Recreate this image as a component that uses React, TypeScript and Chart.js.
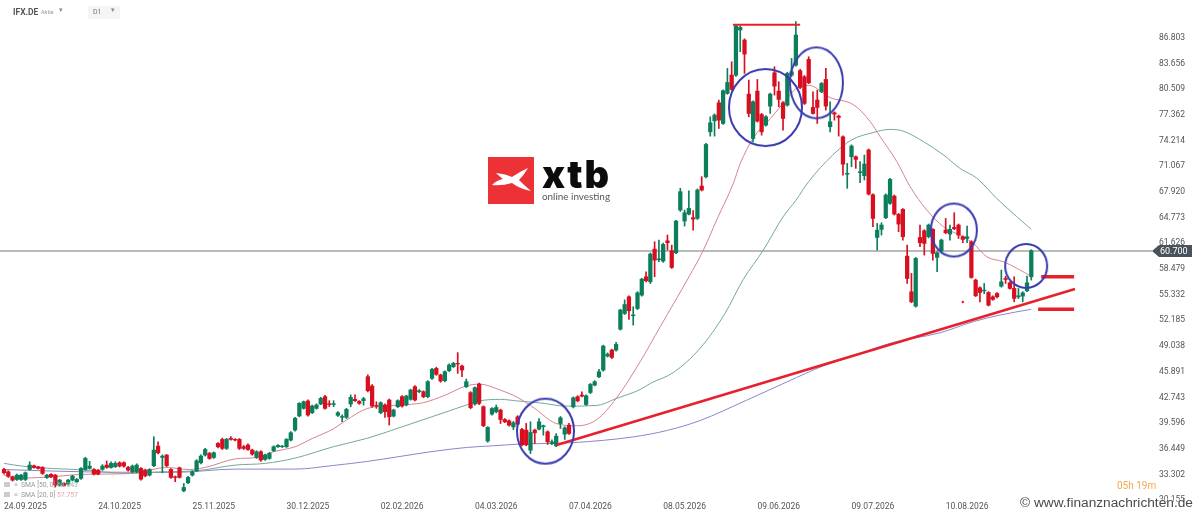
import { useEffect, useRef } from "react"
import { Chart, registerables } from "chart.js"

Chart.register(...registerables)

const opens = [
  33.91, 33.62, 33.01, 32.68, 32.68, 32.68, 33.91, 34.36, 34.24, 34.15,
  32.93, 33.30, 33.21, 31.99, 32.19, 32.11, 32.60, 32.40, 32.81, 33.91,
  34.03, 33.91, 33.83, 33.91, 34.44, 34.15, 34.24, 34.73, 34.73, 34.15,
  33.62, 33.62, 34.03, 33.83, 33.21, 34.36, 36.77, 35.38, 35.67, 33.91,
  33.01, 34.11, 31.29, 32.27, 33.21, 33.74, 34.73, 35.67, 35.87, 35.38,
  37.10, 37.59, 36.49, 37.72, 37.59, 37.59, 36.69, 36.90, 36.28, 35.38,
  36.08, 35.14, 35.26, 36.20, 36.69, 36.69, 36.69, 37.51, 38.74, 40.47,
  41.40, 42.30, 40.86, 41.40, 41.93, 42.83, 41.97, 41.87, 40.54, 40.30,
  40.29, 41.93, 42.50, 42.25, 42.34, 45.28, 44.14, 41.76, 40.86, 41.81,
  42.42, 40.45, 41.60, 42.83, 41.81, 42.50, 44.05, 43.44, 43.44, 42.83,
  45.08, 46.30, 45.49, 44.79, 46.02, 46.51, 46.92, 46.59, 44.05, 43.32,
  41.93, 44.38, 41.60, 37.39, 40.69, 40.97, 41.18, 40.03, 39.87, 39.13,
  40.36, 38.81, 38.73, 36.27, 38.73, 38.85, 39.15, 38.52, 37.09, 36.80,
  39.54, 38.23, 39.34, 41.59, 42.82, 43.02, 41.87, 43.35, 44.25, 45.27,
  46.09, 47.80, 48.54, 48.54, 51.10, 53.03, 55.07, 52.75, 53.64, 55.28,
  57.53, 56.91, 60.92, 59.62, 59.45, 61.94, 60.72, 60.47, 65.71, 64.36,
  65.22, 64.77, 64.69, 68.65, 69.78, 75.30, 76.65, 78.86, 76.32, 80.01,
  82.25, 82.25, 87.78, 86.55, 79.92, 74.48, 80.29, 77.43, 76.12, 78.45,
  82.54, 80.29, 78.86, 78.57, 82.25, 83.48, 82.79, 82.05, 84.18, 78.29,
  79.19, 80.21, 81.72, 75.92, 77.63, 77.22, 74.69, 70.10, 72.25, 72.25,
  70.30, 69.92, 73.07, 67.59, 62.35, 63.34, 64.77, 66.53, 67.42, 65.18,
  65.79, 60.06, 55.69, 53.93, 62.35, 63.17, 62.44, 63.34, 59.90, 60.72,
  63.25, 62.76, 63.58, 63.87, 62.44, 62.23, 61.82, 57.12, 56.18, 55.80,
  55.60, 55.07, 55.48, 56.38, 57.32, 56.79, 56.10, 55.07, 55.16, 55.81,
  57.53,
]

const closes = [
  33.50, 33.09, 32.60, 33.21, 33.21, 33.50, 34.44, 34.15, 34.03, 33.42,
  33.21, 33.01, 31.99, 32.60, 31.95, 32.60, 33.09, 32.68, 34.03, 35.26,
  34.32, 33.34, 33.34, 34.32, 34.15, 34.65, 34.65, 34.32, 34.32, 33.83,
  34.32, 34.44, 32.72, 33.13, 33.91, 36.28, 35.95, 35.54, 34.36, 32.93,
  32.93, 32.93, 31.70, 32.93, 33.62, 34.97, 35.55, 36.36, 35.26, 35.96,
  36.69, 36.49, 37.63, 37.60, 37.51, 36.49, 36.49, 36.36, 35.79, 36.08,
  35.06, 35.67, 35.87, 36.69, 36.86, 36.77, 37.59, 38.41, 40.17, 42.01,
  42.21, 40.58, 41.68, 41.81, 42.62, 41.40, 41.87, 41.97, 40.86, 40.40,
  41.27, 42.75, 42.34, 42.01, 42.58, 43.56, 41.68, 41.68, 42.09, 40.99,
  40.37, 41.19, 42.34, 41.68, 42.91, 43.65, 42.42, 43.56, 42.83, 44.67,
  46.18, 45.57, 44.75, 45.89, 46.71, 46.92, 46.84, 46.10, 44.67, 41.48,
  43.93, 42.01, 39.27, 39.06, 41.38, 41.51, 40.03, 39.75, 39.34, 39.63,
  39.46, 36.93, 36.93, 38.44, 38.40, 39.75, 39.26, 37.29, 37.29, 37.99,
  40.24, 39.01, 38.32, 42.69, 42.32, 42.90, 42.94, 44.33, 44.66, 45.88,
  49.03, 48.05, 47.64, 49.24, 53.45, 54.13, 53.36, 52.85, 55.56, 57.24,
  57.04, 60.31, 59.57, 59.72, 61.50, 61.70, 58.67, 64.36, 67.96, 65.38,
  65.91, 64.60, 68.16, 68.16, 73.75, 76.41, 77.35, 76.73, 80.33, 81.35,
  80.50, 88.27, 88.10, 84.83, 77.55, 78.98, 76.61, 75.30, 77.14, 79.92,
  80.90, 79.27, 76.94, 82.46, 82.66, 87.16, 80.74, 78.78, 81.31, 77.55,
  78.29, 81.23, 78.45, 76.53, 77.47, 77.06, 71.33, 70.21, 73.56, 71.92,
  70.41, 71.35, 67.67, 64.68, 63.25, 63.87, 67.55, 69.47, 65.22, 63.99,
  62.44, 57.32, 54.46, 59.78, 61.70, 61.62, 63.87, 60.39, 60.47, 62.03,
  62.93, 63.34, 63.42, 62.64, 62.11, 62.44, 57.45, 55.20, 55.60, 55.89,
  54.05, 54.75, 55.07, 56.91, 57.20, 56.10, 54.87, 55.20, 55.56, 56.79,
  60.72,
]

const highs = [
  34.03, 33.75, 33.09, 33.34, 33.30, 33.60, 34.85, 34.45, 34.30, 34.25,
  33.30, 33.40, 33.30, 32.70, 32.30, 32.70, 33.20, 32.80, 34.15, 35.40,
  34.90, 34.00, 33.90, 34.50, 34.95, 34.85, 34.85, 34.85, 34.85, 34.30,
  34.45, 34.60, 34.15, 33.95, 34.00, 37.92, 37.30, 35.70, 35.75, 34.00,
  33.10, 34.20, 32.19, 33.05, 33.75, 35.10, 35.70, 36.50, 36.00, 36.05,
  37.20, 37.75, 37.70, 37.95, 37.70, 37.70, 36.85, 37.05, 36.40, 36.20,
  36.20, 35.80, 36.00, 36.80, 36.95, 36.85, 37.70, 38.55, 40.30, 42.10,
  42.30, 42.45, 41.80, 41.95, 42.75, 43.00, 42.34, 42.34, 41.00, 40.60,
  41.40, 43.05, 43.05, 42.35, 42.75, 45.50, 44.30, 42.20, 42.20, 41.95,
  42.55, 41.30, 42.45, 42.95, 43.00, 43.75, 44.20, 43.70, 43.55, 44.80,
  46.30, 46.45, 45.60, 46.00, 46.85, 47.05, 48.23, 46.70, 45.00, 43.45,
  44.05, 44.50, 41.70, 39.15, 41.50, 41.80, 41.30, 40.15, 40.00, 39.80,
  40.50, 38.95, 39.55, 39.75, 38.85, 40.15, 39.35, 38.65, 37.55, 38.30,
  40.40, 39.15, 39.55, 42.80, 42.95, 43.42, 43.05, 44.45, 44.80, 46.17,
  49.15, 48.20, 48.65, 49.50, 53.55, 54.70, 55.20, 53.85, 55.70, 57.35,
  58.14, 60.45, 61.82, 62.03, 61.65, 62.64, 61.41, 64.45, 68.37, 65.71,
  68.08, 65.63, 68.30, 69.80, 73.90, 77.14, 77.50, 79.19, 80.45, 83.07,
  83.89, 88.40, 88.30, 86.70, 81.64, 79.10, 81.72, 77.55, 77.30, 80.05,
  83.28, 81.44, 79.00, 82.60, 84.30, 88.80, 82.95, 82.20, 84.50, 80.21,
  80.41, 81.35, 83.07, 78.98, 77.75, 77.35, 74.80, 71.43, 73.70, 72.35,
  71.64, 72.46, 73.20, 67.70, 64.07, 64.15, 67.70, 69.60, 67.55, 65.30,
  65.90, 61.41, 57.94, 59.90, 63.87, 63.30, 64.00, 63.45, 60.60, 62.15,
  64.68, 63.87, 65.38, 64.00, 62.55, 63.74, 61.95, 57.25, 56.30, 56.71,
  55.70, 55.20, 55.60, 58.35, 57.60, 56.90, 57.53, 56.10, 55.70, 57.61,
  60.85,
]

const lows = [
  33.34, 32.93, 32.48, 32.55, 32.55, 32.55, 33.83, 34.05, 33.95, 33.30,
  32.80, 32.90, 31.75, 31.85, 31.85, 32.00, 32.50, 32.30, 32.70, 33.80,
  33.95, 33.25, 33.25, 33.80, 34.05, 34.05, 34.15, 34.20, 34.20, 33.70,
  33.50, 33.50, 32.60, 33.00, 33.10, 34.25, 35.80, 33.50, 34.25, 32.80,
  32.40, 32.85, 31.17, 32.15, 33.10, 33.65, 34.60, 35.55, 35.15, 35.25,
  36.55, 36.35, 36.35, 37.51, 37.40, 36.35, 36.35, 36.25, 35.65, 35.25,
  34.90, 35.00, 35.15, 36.10, 36.60, 36.60, 36.60, 37.40, 38.60, 40.35,
  41.30, 40.45, 40.75, 41.30, 41.85, 41.30, 41.60, 41.60, 40.40, 39.76,
  40.15, 41.60, 42.25, 41.90, 41.80, 43.40, 41.55, 41.40, 40.75, 40.30,
  39.35, 40.35, 41.50, 41.55, 41.70, 42.40, 42.30, 43.30, 42.70, 42.70,
  44.95, 45.45, 44.60, 44.65, 45.90, 46.40, 45.69, 45.28, 43.95, 41.35,
  41.80, 41.85, 39.15, 37.25, 40.55, 40.85, 39.54, 39.65, 39.20, 38.80,
  39.35, 36.80, 36.80, 35.86, 37.09, 38.75, 38.11, 36.97, 36.95, 36.70,
  38.93, 37.58, 38.20, 41.45, 42.20, 42.80, 41.75, 43.20, 44.15, 45.15,
  45.95, 47.70, 47.50, 48.40, 51.00, 52.90, 52.30, 51.60, 53.50, 55.15,
  56.90, 56.70, 57.53, 59.37, 59.30, 60.80, 58.55, 60.35, 65.55, 63.75,
  65.10, 63.25, 64.55, 68.05, 69.65, 74.77, 74.77, 75.71, 76.20, 79.90,
  80.40, 82.10, 85.12, 82.46, 77.14, 74.07, 76.50, 74.89, 76.00, 77.55,
  79.80, 78.37, 75.51, 78.45, 82.10, 83.35, 80.60, 78.65, 81.20, 77.45,
  76.32, 80.10, 77.96, 75.30, 76.73, 74.77, 69.99, 68.37, 71.02, 70.82,
  69.06, 69.39, 67.55, 63.66, 60.80, 62.64, 64.65, 66.40, 65.10, 63.05,
  62.03, 56.71, 54.35, 53.80, 61.21, 60.19, 62.30, 59.57, 58.14, 60.60,
  62.80, 62.03, 63.30, 62.23, 61.70, 61.70, 57.35, 55.10, 54.46, 55.45,
  53.95, 54.65, 54.95, 56.25, 56.71, 56.00, 54.46, 54.85, 54.46, 55.70,
  57.12,
]

// moving averages at the bars where they bend
const sma20Bars = [0, 3, 10, 18, 30, 38, 43, 47, 54, 59, 63, 68, 72, 77, 80, 85, 94, 98, 103, 107.7, 111, 116, 120, 124, 129, 134, 138.5, 143, 148.6, 153.3, 160, 163.4, 166.5, 170.4, 172, 175, 179, 183, 185, 188, 193, 198.5, 202.3, 204.7, 208.6, 211.7, 215.6, 219.5, 224, 226.5, 229.6, 233.5, 240]
const sma20Values = [33.2, 32.85, 32.95, 33.3, 33.42, 34.15, 33.9, 34.15, 35.2, 35.38, 36.08, 36.69, 37.7, 38.9, 39.96, 41.4, 41.85, 42.1, 43.0, 44.1, 44.37, 43.63, 42.73, 41.38, 39.54, 39.26, 40.03, 42.6, 47.1, 51.4, 57.5, 60.8, 64.5, 69, 71.4, 74.5, 76.9, 79.4, 80.6, 81.0, 79.5, 78.6, 76.6, 74.7, 71.64, 68.57, 65.7, 63.66, 62.44, 61.6, 59.98, 59.37, 57.6]

const sma50Bars = [0, 4.5, 11, 17, 29, 36, 45, 54, 61, 68, 77, 85, 92.5, 100, 108, 111, 116, 120, 125, 131.5, 138.5, 143, 148.6, 151, 156.4, 162.6, 168.4, 172.7, 177.4, 182, 185, 188, 193.5, 198, 203, 207, 210, 214.8, 219.5, 223.4, 227.3, 232, 236.6, 240]
const sma50Values = [34.65, 34.3, 34.03, 33.9, 33.42, 33.6, 33.75, 34.44, 34.65, 35.3, 36.7, 37.75, 39.05, 40.37, 41.8, 42.3, 42.5, 42.3, 42.08, 41.67, 41.75, 42.6, 43.7, 44.45, 45.8, 48.75, 53, 57.2, 60.8, 64.87, 66.9, 69.2, 72.4, 74.3, 75.2, 75.6, 75.4, 74.1, 72.46, 70.8, 69.6, 67.1, 64.9, 63.34]

const sma100Bars = [0, 20, 40, 54, 68, 77, 85, 92.5, 100, 108, 114, 120, 133, 147, 155, 162.6, 173.5, 183, 191.4, 199, 207, 218.7, 226.5, 232.7, 240]
const sma100Values = [33.9, 33.6, 33.55, 33.95, 33.95, 34.4, 34.9, 35.5, 36.1, 36.6, 36.8, 37.0, 37.2, 37.9, 38.7, 39.9, 42.4, 44.66, 46.6, 47.9, 49.37, 50.67, 52.03, 52.84, 53.54]

// hand drawn analysis on top of the price
const trendBars = [129.1, 250.2]
const trendValues = [36.9, 56.03]
const topBars = [170.3, 186]
const topValues = [88.43, 88.43]
const upperBars = [242.3, 250]
const upperValues = [57.54, 57.54]
const lowerBars = [241.6, 250]
const lowerValues = [53.54, 53.54]
const dotBars = [224]
const dotValues = [54.44]

const circleBars = [126.5, 177.9, 189.8, 221.9, 238.8]
const circleValues = [38.6, 78.28, 81.3, 63.26, 58.85]
const circleWidths = [57, 73, 53, 46, 42]
const circleHeights = [65, 77, 71, 53, 44]

const lastPrice = 60.7
const priceTicks = [86.803, 83.656, 80.509, 77.362, 74.214, 71.067, 67.92, 64.773, 61.626, 58.479, 55.332, 52.185, 49.038, 45.891, 42.743, 39.596, 36.449, 33.302, 30.155]
const dateLabels = ["24.09.2025", "24.10.2025", "25.11.2025", "30.12.2025", "02.02.2026", "04.03.2026", "07.04.2026", "08.05.2026", "09.06.2026", "09.07.2026", "10.08.2026"]
const dateBars = [5, 27, 49, 71, 93, 115, 137, 159, 181, 203, 225]

const GREEN = "#0b7f5c"
const RED = "#d80f20"
const X_MIN = -0.935
const X_MAX = 268.2

const points = (xs: number[], ys: number[]) => xs.map((x, i) => ({ x, y: ys[i] }))

function ellipseMark(w: number, h: number) {
  const c = document.createElement("canvas")
  c.width = w + 4
  c.height = h + 4
  const ctx = c.getContext("2d")
  if (ctx) {
    ctx.strokeStyle = "#3a3cae"
    ctx.lineWidth = 2
    ctx.beginPath()
    ctx.ellipse(c.width / 2, c.height / 2, w / 2, h / 2, 0, 0, Math.PI * 2)
    ctx.stroke()
  }
  return c
}

const smaLine = (xs: number[], ys: number[], color: string) => ({
  type: "line" as const,
  data: points(xs, ys),
  borderColor: color,
  borderWidth: 1,
  pointRadius: 0,
  cubicInterpolationMode: "monotone" as const,
  order: 5,
})

const redLine = (xs: number[], ys: number[], width: number) => ({
  type: "line" as const,
  data: points(xs, ys),
  borderColor: "#e81f2d",
  borderWidth: width,
  pointRadius: 0,
  order: 2,
})

const smallText = { position: "absolute", whiteSpace: "nowrap", fontFamily: "Roboto" } as const

function LegendRow({ top, label, value, color }: { top: number; label: string; value: string; color: string }) {
  return (
    <>
      <div style={{ position: "absolute", left: 4, top: top + 1, width: 6, height: 5, background: "#ccc" }} />
      <div style={{ ...smallText, left: 14, top: top - 1, fontSize: 7.5, color: "#aaa" }}>×</div>
      <div style={{ ...smallText, left: 21, top, fontSize: 6.8, color: "#999" }}>{label}</div>
      <div style={{ ...smallText, left: 57, top, fontSize: 6.8, color }}>{value}</div>
    </>
  )
}

export default function App() {
  const chartRef = useRef<HTMLCanvasElement>(null)

  useEffect(() => {
    if (!chartRef.current) return
    const ctx = chartRef.current.getContext("2d")
    if (!ctx) return

    const colors = opens.map((o, i) => (closes[i] >= o ? GREEN : RED))

    const chart = new Chart(ctx, {
      type: "bar",
      data: {
        datasets: [
          {
            type: "line",
            data: points(circleBars, circleValues),
            showLine: false,
            pointStyle: circleWidths.map((w, i) => ellipseMark(w, circleHeights[i])),
            order: 1,
          },
          redLine(trendBars, trendValues, 2.5),
          redLine(topBars, topValues, 2),
          redLine(upperBars, upperValues, 3.5),
          redLine(lowerBars, lowerValues, 3.5),
          {
            type: "line",
            data: points(dotBars, dotValues),
            showLine: false,
            pointRadius: 1.3,
            pointBackgroundColor: "#e81f2d",
            pointBorderWidth: 0,
            order: 2,
          },
          {
            type: "bar",
            data: opens.map((o, i) => ({ x: i, y: [o, closes[i]] })),
            backgroundColor: colors,
            barThickness: 3.6,
            grouped: false,
            order: 3,
          },
          {
            type: "bar",
            data: opens.map((_, i) => ({ x: i, y: [lows[i], highs[i]] })),
            backgroundColor: colors,
            barThickness: 1,
            grouped: false,
            order: 4,
          },
          smaLine(sma20Bars, sma20Values, "#d4848c"),
          smaLine(sma50Bars, sma50Values, "#74a898"),
          smaLine(sma100Bars, sma100Values, "#8b86c6"),
          {
            type: "line",
            data: points([X_MIN, X_MAX], [lastPrice, lastPrice]),
            borderColor: "#a3a3a3",
            borderWidth: 1.5,
            pointRadius: 0,
            order: 6,
          },
        ],
      } as any,
      options: {
        responsive: false,
        animation: false,
        events: [],
        layout: { padding: 0, autoPadding: false },
        plugins: { legend: { display: false }, tooltip: { enabled: false } },
        scales: {
          x: {
            type: "linear",
            min: X_MIN,
            max: X_MAX,
            offset: false,
            grid: { display: false, drawTicks: false, offset: false },
            border: { display: false },
            afterBuildTicks: (scale: any) => {
              scale.ticks = dateBars.map((value) => ({ value }))
            },
            afterFit: (scale: any) => {
              scale.height = 16
              scale.paddingLeft = 0
              scale.paddingRight = 0
            },
            ticks: {
              autoSkip: false,
              maxRotation: 0,
              padding: 1,
              color: "#555",
              font: { family: "Roboto", size: 8.5 },
              callback: (_value: any, index: number) => dateLabels[index],
            },
          },
          y: {
            position: "right",
            min: 30.04,
            max: 91.46,
            offset: false,
            grid: { display: false, drawTicks: false },
            border: { display: false },
            afterBuildTicks: (scale: any) => {
              scale.ticks = priceTicks.map((value) => ({ value }))
            },
            afterFit: (scale: any) => {
              scale.width = 48
              scale.paddingTop = 0
              scale.paddingBottom = 0
            },
            ticks: {
              autoSkip: false,
              padding: 7,
              color: "#555",
              font: { family: "Roboto", size: 8.5 },
              callback: (value: any) => Number(value).toFixed(3),
            },
          },
        },
      },
    })

    return () => {
      chart.destroy()
    }
  }, [])

  return (
    <div style={{ position: "absolute", left: 0, top: 0, width: 1200, height: 517, background: "#fff", overflow: "hidden" }}>
      <canvas ref={chartRef} width={1200} height={517} style={{ display: "block" }} />

      <div style={{ ...smallText, left: 13, top: 7, fontSize: 8.5, fontWeight: 700, color: "#555" }}>IFX.DE</div>
      <div style={{ ...smallText, left: 41, top: 9, fontSize: 5.5, color: "#999" }}>Aktie</div>
      <div style={{ ...smallText, left: 59, top: 6, fontSize: 7, color: "#888" }}>▾</div>
      <div style={{ position: "absolute", left: 88, top: 6, width: 32, height: 13, background: "#f5f5f5" }} />
      <div style={{ ...smallText, left: 93, top: 8, fontSize: 7, color: "#777" }}>D1</div>
      <div style={{ ...smallText, left: 111, top: 6, fontSize: 7, color: "#888" }}>▾</div>

      <LegendRow top={481} label="SMA [50, 0]" value="63.343" color="#9cbcb0" />
      <LegendRow top={491} label="SMA [20, 0]" value="57.757" color="#e2a5ab" />

      <svg style={{ position: "absolute", left: 488, top: 157 }} width={46} height={47} viewBox="0 0 46 47">
        <rect width={46} height={47} fill="#ed3237" />
        <path d="M8 16 Q18 17 24 20 Q31 15 40 11 Q36 18 31 23 Q37 29 43 34 Q32 32 24 26 Q14 29 4 28 Q9 23 15 22 Q11 19 8 16 Z" fill="#fff" />
      </svg>
      <div style={{ position: "absolute", left: 542, top: 151, fontFamily: "Inter", fontWeight: 900, fontSize: 38, letterSpacing: 1.8, lineHeight: "46px", color: "#0c0c0c" }}>xtb</div>
      <div style={{ ...smallText, left: 542, top: 189, fontFamily: "Lato", fontSize: 9.9, lineHeight: "14px", color: "#555" }}>online investing</div>

      <div style={{ position: "absolute", left: 1152, top: 245, width: 40, height: 12, background: "#48535c", clipPath: "polygon(0 50%, 7px 0, 100% 0, 100% 100%, 7px 100%)" }} />
      <div style={{ ...smallText, left: 1160, top: 245, fontSize: 9, lineHeight: "12px", color: "#fff" }}>60.700</div>

      <div style={{ ...smallText, left: 1117, top: 479, fontSize: 10, lineHeight: "14px", color: "#f3a94e" }}>05h 19m</div>
      <div style={{ ...smallText, left: 1020, top: 494, fontFamily: "Liberation Sans", fontSize: 13.7, lineHeight: "18px", color: "#4a4a4a", textShadow: "0 0 2px #fff, 0 0 2px #fff, 0 0 3px #fff" }}>© www.finanznachrichten.de</div>
    </div>
  )
}
